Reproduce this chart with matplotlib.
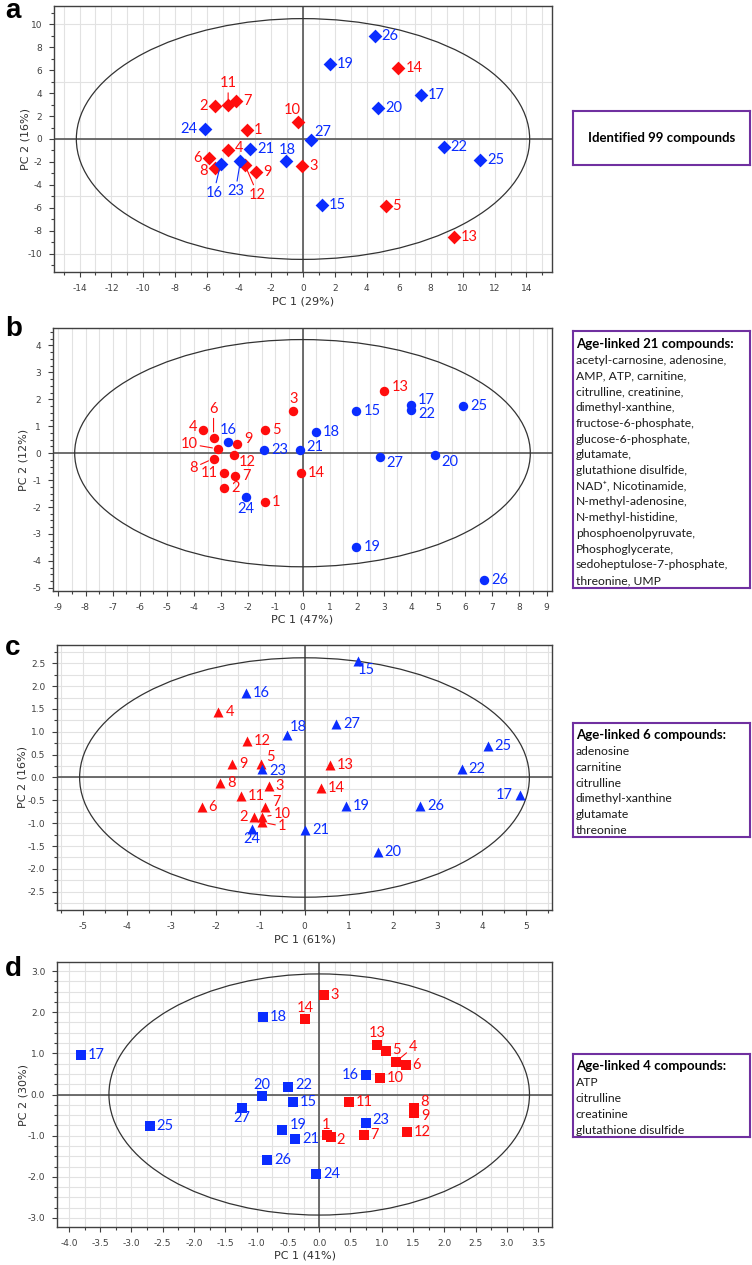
import numpy as np
import matplotlib
matplotlib.use('Agg')
import matplotlib.pyplot as plt
from matplotlib.patches import Ellipse

plt.rcParams['axes.unicode_minus'] = False

# sample ids: 1-14 red group, 15-27 blue group
sample_ids = list(range(1, 28))
red_ids = list(range(1, 15))

# panel a: all 99 compounds
pc1_a = [-3.5, -5.52, -0.06, -4.7, 5.17, -5.88, -4.2, -5.52, -2.94, -0.33, -4.69, -3.65, 9.44, 5.98,
         1.17, -5.15, 7.38, -1.08, 1.67, 4.69, -3.33, 8.81, -3.92, -6.17, 11.1, 4.48, 0.48]
pc2_a = [0.78, 2.9, -2.32, -0.99, -5.86, -1.65, 3.28, -2.55, -2.84, 1.5, 2.96, -2.23, -8.52, 6.2,
         -5.77, -2.14, 3.82, -1.94, 6.52, 2.69, -0.87, -0.70, -1.91, 0.87, -1.83, 8.97, -0.06]

# panel b: 21 age-linked compounds
pc1_b = [-1.39, -2.89, -0.34, -3.66, -1.39, -3.28, -2.48, -3.28, -2.42, -3.12, -2.91, -2.54, 3.02, -0.06,
         1.99, -2.73, 4.01, 0.49, 1.99, 4.9, -0.1, 4.01, -1.42, -2.1, 5.92, 6.69, 2.87]
pc2_b = [-1.80, -1.30, 1.55, 0.87, 0.87, 0.58, -0.83, -0.20, 0.33, 0.16, -0.74, -0.06, 2.32, -0.72,
         1.55, 0.42, 1.79, 0.77, -3.5, -0.07, 0.12, 1.59, 0.11, -1.61, 1.74, -4.71, -0.14]

# panel c: 6 age-linked compounds
pc1_c = [-0.95, -1.14, -0.81, -1.94, -0.98, -2.32, -0.88, -1.9, -1.64, -0.95, -1.44, -1.3, 0.58, 0.37,
         1.21, -1.32, 4.85, -0.4, 0.94, 1.65, 0.01, 3.54, -0.96, -1.18, 4.13, 2.61, 0.72]
pc2_c = [-0.98, -0.87, -0.18, 1.43, 0.30, -0.65, -0.65, -0.12, 0.29, -0.86, -0.40, 0.80, 0.28, -0.23,
         2.55, 1.85, -0.38, 0.93, -0.62, -1.64, -1.14, 0.18, 0.19, -1.12, 0.69, -0.63, 1.16]

# panel d: 4 age-linked compounds
pc1_d = [0.13, 0.19, 0.07, 1.22, 1.06, 1.38, 0.71, 1.51, 1.52, 0.97, 0.48, 1.4, 0.93, -0.23,
         -0.42, 0.74, -3.81, -0.9, -0.59, -0.91, -0.38, -0.5, 0.74, -0.05, -2.71, -0.83, -1.23]
pc2_d = [-0.99, -1.03, 2.43, 0.79, 1.05, 0.71, -0.99, -0.33, -0.45, 0.41, -0.19, -0.92, 1.21, 1.84,
         -0.19, 0.48, 0.96, 1.88, -0.86, -0.04, -1.08, 0.19, -0.70, -1.92, -0.76, -1.58, -0.33]

# hotelling ellipse half-axes (pc1, pc2)
ellipse_a = [14.2, 10.5]
ellipse_b = [8.4, 4.22]
ellipse_c = [5.07, 2.62]
ellipse_d = [3.36, 2.93]

variance_a = [29, 16]
variance_b = [47, 12]
variance_c = [61, 16]
variance_d = [41, 30]

box_a = ['Identified 99 compounds']
box_b = ['Age-linked 21 compounds:', 'acetyl-carnosine, adenosine,', 'AMP, ATP, carnitine,',
         'citrulline, creatinine,', 'dimethyl-xanthine,', 'fructose-6-phosphate,',
         'glucose-6-phosphate,', 'glutamate,', 'glutathione disulfide,', 'NAD\u207a, Nicotinamide,',
         'N-methyl-adenosine,', 'N-methyl-histidine,', 'phosphoenolpyruvate,', 'Phosphoglycerate,',
         'sedoheptulose-7-phosphate,', 'threonine, UMP']
box_c = ['Age-linked 6 compounds:', 'adenosine', 'carnitine', 'citrulline', 'dimethyl-xanthine',
         'glutamate', 'threonine']
box_d = ['Age-linked 4 compounds:', 'ATP', 'citrulline', 'creatinine', 'glutathione disulfide']

RED = '#ff0d0d'
BLUE = '#0a2dff'
W, H = 752, 1265
label_font = ['Lato', 'DejaVu Sans']

# label placement tweaks (ha, dx px, dy px, leader line)
labels_a = {2: ('right', -7, 0, False), 6: ('right', -7, 0, False), 8: ('right', -7, -3, False),
            24: ('right', -7, 0, False), 10: ('center', -5, 12, False), 11: ('center', 0, 22, True),
            16: ('center', -7, -29, True), 23: ('center', -5, -30, True), 12: ('center', 13, -30, True),
            18: ('center', 1, 11, False), 27: ('left', 4, 8, False), 4: ('left', 7, 2, False)}
labels_b = {3: ('center', 0, 12, False), 4: ('right', -6, 3, False), 6: ('center', 0, 29, True),
            8: ('center', -20, -9, True), 9: ('left', 7, 5, False), 10: ('center', -29, 5, True),
            11: ('right', -6, 0, False), 12: ('left', 5, -7, False), 13: ('left', 7, 4, False),
            16: ('center', 0, 12, False), 17: ('left', 7, 5, False), 22: ('left', 7, -4, False),
            20: ('left', 6, -7, False), 21: ('left', 7, 3, False), 24: ('center', 0, -12, False),
            27: ('left', 6, -6, False)}
labels_c = {1: ('center', 20, -4, True), 10: ('center', 20, 3, True), 2: ('right', -6, 0, False),
            7: ('left', 7, 5, False), 5: ('left', 5, 7, False), 24: ('center', 0, -10, False),
            15: ('center', 8, -9, False), 17: ('right', -7, 0, False), 18: ('left', 3, 8, False),
            23: ('left', 7, -2, False)}
labels_d = {1: ('center', -1, 10, False), 2: ('left', 5, -3, False), 14: ('center', 0, 11, False),
            13: ('center', 0, 12, False), 4: ('center', 18, 15, True), 16: ('right', -7, 0, False),
            8: ('left', 7, 6, False), 9: ('left', 7, -3, False), 20: ('center', 0, 11, False),
            27: ('center', 0, -10, False), 19: ('left', 7, 5, False), 23: ('left', 7, 3, False),
            22: ('left', 7, 2, False), 5: ('left', 7, 1, False)}


def px_axes(fig, left, top, right, bottom):
	return fig.add_axes([left / W, 1 - bottom / H, (right - left) / W, (bottom - top) / H])


def draw_panel(fig, rect, letter, letter_y, pc1, pc2, ell, var, marker, ms, labels, cfg):
	left, top, right, bottom = rect
	ax = px_axes(fig, left, top, right, bottom)
	ax.set_xlim(cfg['xlim'])
	ax.set_ylim(cfg['ylim'])

	# grid lines
	for gx in np.arange(cfg['xlim'][0] - cfg['xlim'][0] % cfg['gx'], cfg['xlim'][1], cfg['gx']):
		ax.axvline(gx, color='#e2e2e2', lw=0.8, zorder=0)
	if cfg['gy']:
		for gy in np.arange(cfg['ylim'][0] - cfg['ylim'][0] % cfg['gy'], cfg['ylim'][1], cfg['gy']):
			ax.axhline(gy, color='#e2e2e2', lw=0.8, zorder=0)
	ax.axhline(0, color='#555555', lw=1.2, zorder=1)
	ax.axvline(0, color='#555555', lw=1.2, zorder=1)

	ax.add_patch(Ellipse((0, 0), 2 * ell[0], 2 * ell[1], fill=False, ec='#333333', lw=0.9, zorder=2))

	for i, sid in enumerate(sample_ids):
		col = RED if sid in red_ids else BLUE
		ax.scatter(pc1[i], pc2[i], marker=marker, s=ms ** 2, color=col, linewidths=0, zorder=4)
		ha, dx, dy, leader = labels.get(sid, ('left', 7, 0, False))
		arrow = None
		if leader:
			arrow = dict(arrowstyle='-', color=col, lw=0.8, shrinkA=0, shrinkB=4)
		ax.annotate(str(sid), (pc1[i], pc2[i]), xytext=(dx, dy), textcoords='offset pixels',
			ha=ha, va='center', color=col, fontsize=10.5, family=label_font,
			arrowprops=arrow, zorder=5)

	ax.set_xticks(cfg['xticks'])
	ax.set_yticks(cfg['yticks'])
	ax.set_xticks(cfg['xminor'], minor=True)
	ax.set_yticks(cfg['yminor'], minor=True)
	ax.set_xticklabels([cfg['fmt_x'].format(v) for v in cfg['xticks']])
	ax.set_yticklabels([cfg['fmt_y'].format(v) for v in cfg['yticks']])
	ax.tick_params(which='both', direction='out', color='#404040', labelsize=6.5, labelcolor='#404040', width=0.8)
	ax.tick_params(which='major', length=3.5, pad=5)
	ax.tick_params(which='minor', length=2.5)
	for sp in ax.spines.values():
		sp.set_color('#404040')
		sp.set_linewidth(1.0)

	h_px = bottom - top
	w_px = right - left
	ax.set_xlabel(f'PC 1 ({var[0]}%)', fontsize=8, color='#303030', va='center')
	ax.set_ylabel(f'PC 2 ({var[1]}%)', fontsize=8, color='#303030', va='center')
	ax.xaxis.set_label_coords(0.5, -29 / h_px)
	ax.yaxis.set_label_coords(-cfg['ylab'] / w_px, 0.5)

	fig.text(5 / W, 1 - letter_y / H, letter, fontsize=20, fontweight='bold',
		family='Liberation Sans', va='baseline', ha='left')
	return ax


def draw_box(fig, rect, lines, title_y, spacing, centered=False):
	left, top, right, bottom = rect
	bx = px_axes(fig, left, top, right, bottom)
	bx.set_xticks([])
	bx.set_yticks([])
	for sp in bx.spines.values():
		sp.set_color('#7030a0')
		sp.set_linewidth(1.5)
	h_px = bottom - top
	if centered:
		bx.text(0.5, 0.5, lines[0], ha='center', va='center', fontsize=9.5, fontweight='bold', family=label_font)
		return
	bx.text(3 / (right - left), 1 - (title_y - top) / h_px, lines[0], ha='left', va='center',
		fontsize=9.5, fontweight='bold', family=label_font)
	y = title_y + spacing + 1
	for ln in lines[1:]:
		bx.text(3 / (right - left), 1 - (y - top) / h_px, ln, ha='left', va='center',
			fontsize=8.7, family=label_font, color='#1a1a1a')
		y += spacing


def main():
	fig = plt.figure(figsize=(W / 100, H / 100), dpi=100)

	cfg_a = dict(xlim=(-15.6, 15.6), ylim=(-11.6, 11.6), gx=1, gy=5,
		xticks=np.arange(-14, 15, 2), yticks=np.arange(-10, 11, 2),
		xminor=np.arange(-15, 16, 1), yminor=np.arange(-11, 12, 1),
		fmt_x='{:.0f}', fmt_y='{:.0f}', ylab=29)
	cfg_b = dict(xlim=(-9.2, 9.2), ylim=(-5.12, 4.65), gx=0.5, gy=None,
		xticks=np.arange(-9, 10, 1), yticks=np.arange(-5, 5, 1),
		xminor=np.arange(-9, 9.1, 0.5), yminor=np.arange(-5, 4.6, 0.25),
		fmt_x='{:.0f}', fmt_y='{:.0f}', ylab=30)
	cfg_c = dict(xlim=(-5.58, 5.58), ylim=(-2.9, 2.9), gx=0.5, gy=0.25,
		xticks=np.arange(-5, 6, 1), yticks=np.arange(-2.5, 2.6, 0.5),
		xminor=np.arange(-5.5, 5.6, 0.5), yminor=np.arange(-2.75, 2.8, 0.25),
		fmt_x='{:.0f}', fmt_y='{:.1f}', ylab=35)
	cfg_d = dict(xlim=(-4.19, 3.72), ylim=(-3.22, 3.22), gx=0.25, gy=0.25,
		xticks=np.arange(-4, 3.6, 0.5), yticks=np.arange(-3, 3.1, 1.0),
		xminor=np.arange(-4, 3.6, 0.25), yminor=np.arange(-3, 3.1, 0.25),
		fmt_x='{:.1f}', fmt_y='{:.1f}', ylab=34)

	draw_panel(fig, (54, 6, 552, 272), 'a', 18, pc1_a, pc2_a, ellipse_a, variance_a, 'D', 7.0, labels_a, cfg_a)
	draw_panel(fig, (53, 328, 552, 591), 'b', 336, pc1_b, pc2_b, ellipse_b, variance_b, 'o', 6.8, labels_b, cfg_b)
	draw_panel(fig, (57, 645, 552, 910), 'c', 655, pc1_c, pc2_c, ellipse_c, variance_c, '^', 7.2, labels_c, cfg_c)
	draw_panel(fig, (57, 962, 552, 1227), 'd', 976, pc1_d, pc2_d, ellipse_d, variance_d, 's', 6.5, labels_d, cfg_d)

	draw_box(fig, (573, 111, 750, 165), box_a, 0, 0, centered=True)
	draw_box(fig, (573, 331, 750, 588), box_b, 344, 15.7)
	draw_box(fig, (573, 723, 750, 837), box_c, 735, 15.7)
	draw_box(fig, (573, 1054, 750, 1137), box_d, 1066, 16)

	fig.savefig('out.png', dpi=100)


if __name__ == '__main__':
	main()
